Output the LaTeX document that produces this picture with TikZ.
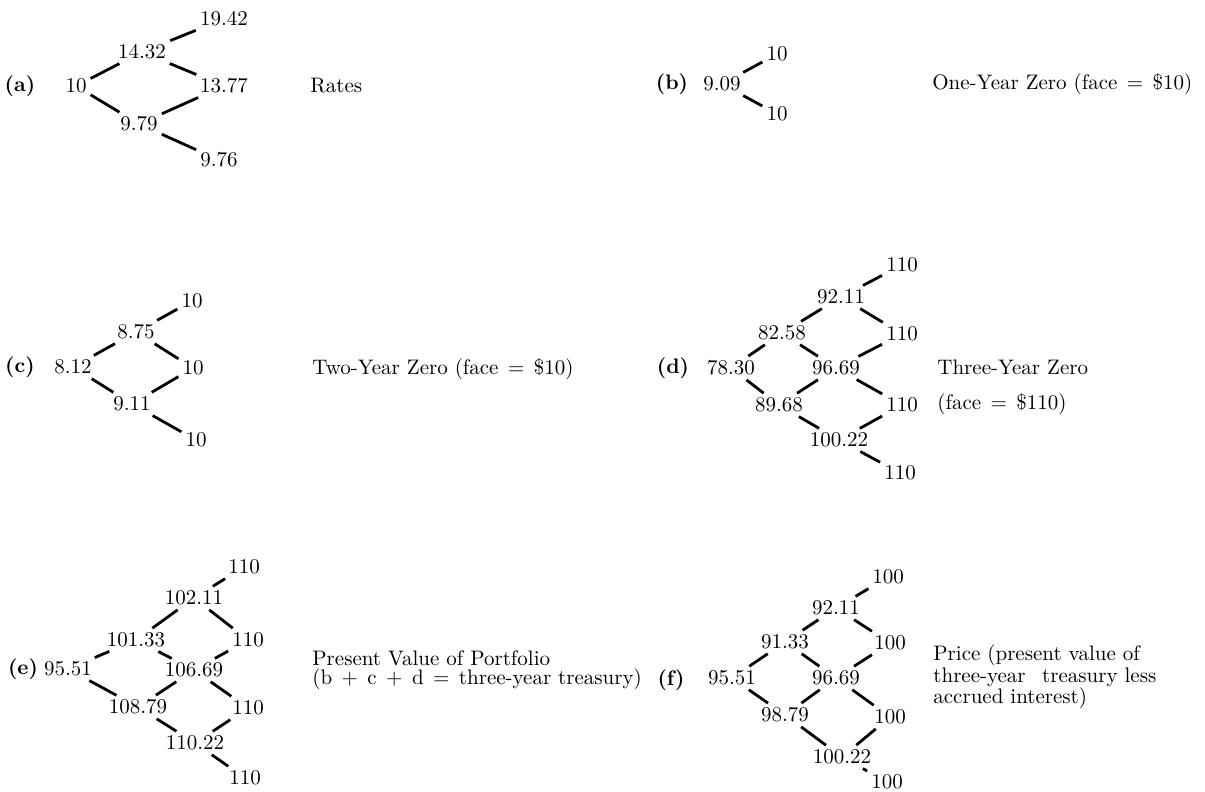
\documentclass[tikz,border=0pt]{standalone}
\usepackage{fontspec}
\newcommand\wsp{\hspace{0.45em}}
\begin{document}
\begin{tikzpicture}[x=0.5pt,y=-0.5pt,
  valnode/.style={inner xsep=1pt, inner ysep=1.5pt, font=\fontsize{10.5}{12}\selectfont},
  conn/.style={line width=1.4pt, shorten <=1pt, shorten >=1pt},
  labnode/.style={inner sep=0pt, font=\fontsize{10.5}{12}\selectfont\bfseries},
  captxt/.style={anchor=base west, inner sep=0pt, font=\fontsize{10.5}{12}\selectfont}]
\useasboundingbox (0,0) rectangle (1205,792);

% ---------- (a) ----------
\node[labnode] (la) at (20,86) {(a)};
\node[valnode] (A0) at (76,86) {10};
\node[valnode] (A1u) at (142,52) {14.32};
\node[valnode] (A1d) at (139,124) {9.79};
\node[valnode] (A2uu) at (224,19) {19.42};
\node[valnode] (A2ud) at (224,86) {13.77};
\node[valnode] (A2dd) at (219,160) {9.76};
\node[captxt] (ca) at (310,93) {Rates};
\draw[conn] (A0) -- (A1u);
\draw[conn] (A0) -- (A1d);
\draw[conn] (A1u) -- (A2uu);
\draw[conn] (A1u) -- (A2ud);
\draw[conn] (A1d) -- (A2ud);
\draw[conn] (A1d) -- (A2dd);

% ---------- (b) ----------
\node[labnode] (lb) at (672,84) {(b)};
\node[valnode] (B0) at (722,84) {9.09};
\node[valnode] (B1u) at (777,54) {10};
\node[valnode] (B1d) at (777,114) {10};
\node[captxt] (cb) at (932,90) {One-Year Zero (face\wsp=\wsp\$10)};
\draw[conn] (B0) -- (B1u);
\draw[conn] (B0) -- (B1d);

% ---------- (c) ----------
\node[labnode] (lc) at (20,367) {(c)};
\node[valnode] (C0) at (73,367) {8.12};
\node[valnode] (C1u) at (136,332) {8.75};
\node[valnode] (C1d) at (132,404) {9.11};
\node[valnode] (C2uu) at (192,301) {10};
\node[valnode] (C2ud) at (193,368) {10};
\node[valnode] (C2dd) at (196,440) {10};
\node[captxt] (cc) at (312,374) {Two-Year Zero (face\wsp=\wsp\$10)};
\draw[conn] (C0) -- (C1u);
\draw[conn] (C0) -- (C1d);
\draw[conn] (C1u) -- (C2uu);
\draw[conn] (C1u) -- (C2ud);
\draw[conn] (C1d) -- (C2ud);
\draw[conn] (C1d) -- (C2dd);

% ---------- (d) ----------
\node[labnode] (ld) at (673,368) {(d)};
\node[valnode] (D0) at (731,368) {78.30};
\node[valnode] (D1u) at (782,333) {82.58};
\node[valnode] (D1d) at (779,405) {89.68};
\node[valnode] (D2uu) at (841,297) {92.11};
\node[valnode] (D2ud) at (836,368) {96.69};
\node[valnode] (D2dd) at (839,440) {100.22};
\node[valnode] (D3a) at (902,265) {110};
\node[valnode] (D3b) at (902,334) {110};
\node[valnode] (D3c) at (902,405) {110};
\node[valnode] (D3d) at (900,473) {110};
\node[captxt] (cd1) at (937,374) {Three-Year Zero};
\node[captxt] (cd2) at (937,409) {(face\wsp=\wsp\$110)};
\draw[conn] (D0) -- (D1u);
\draw[conn] (D0) -- (D1d);
\draw[conn] (D1u) -- (D2uu);
\draw[conn] (D1u) -- (D2ud);
\draw[conn] (D1d) -- (D2ud);
\draw[conn] (D1d) -- (D2dd);
\draw[conn] (D2uu) -- (D3a);
\draw[conn] (D2uu) -- (D3b);
\draw[conn] (D2ud) -- (D3b);
\draw[conn] (D2ud) -- (D3c);
\draw[conn] (D2dd) -- (D3c);
\draw[conn] (D2dd) -- (D3d);

% ---------- (e) ----------
\node[labnode] (le) at (23,669) {(e)};
\node[valnode] (E0) at (68,669) {95.51};
\node[valnode] (E1u) at (136,640) {101.33};
\node[valnode] (E1d) at (138,707) {108.79};
\node[valnode] (E2uu) at (194,598) {102.11};
\node[valnode] (E2ud) at (194,670) {106.69};
\node[valnode] (E2dd) at (195,743) {110.22};
\node[valnode] (E3a) at (244,567) {110};
\node[valnode] (E3b) at (248,640) {110};
\node[valnode] (E3c) at (248,708) {110};
\node[valnode] (E3d) at (245,778) {110};
\node[captxt] (ce1) at (312,665) {Present Value of Portfolio};
\node[captxt] (ce2) at (312,684) {(b\wsp+\wsp c\wsp+\wsp d\wsp=\wsp three-year treasury)};
\draw[conn] (E0) -- (E1u);
\draw[conn] (E0) -- (E1d);
\draw[conn] (E1u) -- (E2uu);
\draw[conn] (E1u) -- (E2ud);
\draw[conn] (E1d) -- (E2ud);
\draw[conn] (E1d) -- (E2dd);
\draw[conn] (E2uu) -- (E3a);
\draw[conn] (E2uu) -- (E3b);
\draw[conn] (E2ud) -- (E3b);
\draw[conn] (E2ud) -- (E3c);
\draw[conn] (E2dd) -- (E3c);
\draw[conn] (E2dd) -- (E3d);

% ---------- (f) ----------
\node[labnode] (lf) at (671,680) {(f)};
\node[valnode] (F0) at (732,678) {95.51};
\node[valnode] (F1u) at (785,642) {91.33};
\node[valnode] (F1d) at (785,715) {98.79};
\node[valnode] (F2uu) at (836,608) {92.11};
\node[valnode] (F2ud) at (836,678) {96.69};
\node[valnode] (F2dd) at (842,757) {100.22};
\node[valnode] (F3a) at (888,577) {100};
\node[valnode] (F3b) at (890,643) {100};
\node[valnode] (F3c) at (890,717) {100};
\node[valnode] (F3d) at (887,782) {100};
\node[captxt] (cf1) at (933,660) {Price (present value of};
\node[captxt] (cf2) at (933,682) {three-year\wsp\ treasury less};
\node[captxt] (cf3) at (933,703) {accrued interest)};
\draw[conn] (F0) -- (F1u);
\draw[conn] (F0) -- (F1d);
\draw[conn] (F1u) -- (F2uu);
\draw[conn] (F1u) -- (F2ud);
\draw[conn] (F1d) -- (F2ud);
\draw[conn] (F1d) -- (F2dd);
\draw[conn] (F2uu) -- (F3a);
\draw[conn] (F2uu) -- (F3b);
\draw[conn] (F2ud) -- (F3b);
\draw[conn] (F2ud) -- (F3c);
\draw[conn] (F2dd) -- (F3c);
\draw[conn] (F2dd) -- (F3d);
\end{tikzpicture}
\end{document}
